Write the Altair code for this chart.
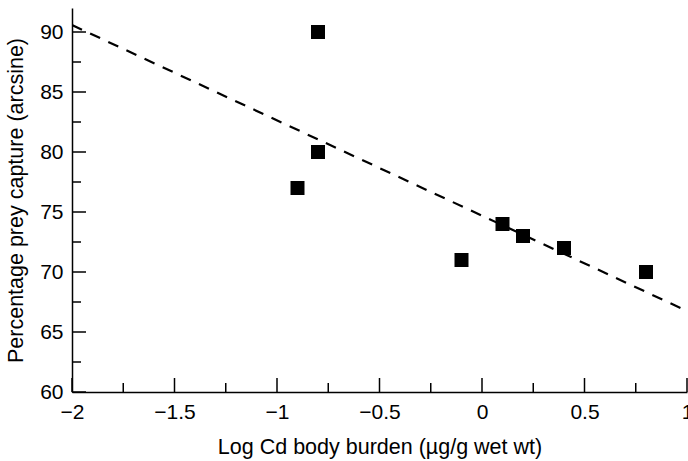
import altair as alt
import pandas as pd
import numpy as np

# Data
log_cd = [-0.8, -0.8, -0.9, -0.1, 0.1, 0.2, 0.4, 0.8]
prey_capture = [90, 80, 77, 71, 74, 73, 72, 70]

# Regression line end points (dashed)
line_x = [-2.0, 1.0]
line_y = [90.58, 66.75]

x_ticks_major = [-2, -1.5, -1, -0.5, 0, 0.5, 1]
x_ticks_minor = [-1.75, -1.25, -0.75, -0.25, 0.25, 0.75]
y_ticks_major = [60, 65, 70, 75, 80, 85, 90]
y_ticks_minor = [62.5, 67.5, 72.5, 77.5, 82.5, 87.5]

FONT = "Liberation Sans"
W, H = 615, 384
XDOM = [-2, 1]
YDOM = [60, 92]

pts = pd.DataFrame({"x": log_cd, "y": prey_capture})
ln = pd.DataFrame({"x": line_x, "y": line_y})

xscale = alt.Scale(domain=XDOM, nice=False, zero=False)
yscale = alt.Scale(domain=YDOM, nice=False, zero=False)

xaxis = alt.Axis(
    title="Log Cd body burden (\u00b5g/g wet wt)",
    values=x_ticks_major,
    labelExpr="replace(format(datum.value, ''), '-', '\u2212')",
    ticks=False,
    grid=False,
    domainColor="black",
    domainWidth=1.5,
    labelFont=FONT, labelFontSize=21, labelColor="black",
    labelPadding=9, labelFlush=False, labelOverlap=False,
    titleFont=FONT, titleFontSize=21.5, titleFontWeight="normal", titleColor="black",
    titlePadding=14,
)
yaxis = alt.Axis(
    title="Percentage prey capture (arcsine)",
    values=y_ticks_major,
    ticks=False,
    grid=False,
    domainColor="black",
    domainWidth=1.5,
    labelFont=FONT, labelFontSize=21, labelColor="black",
    labelPadding=9, labelFlush=False, labelOverlap=False,
    titleFont=FONT, titleFontSize=21.5, titleFontWeight="normal", titleColor="black",
    titlePadding=12,
)

points = alt.Chart(pts).mark_square(size=196, color="black", opacity=1).encode(
    x=alt.X("x:Q", scale=xscale, axis=xaxis),
    y=alt.Y("y:Q", scale=yscale, axis=yaxis),
)

line = alt.Chart(ln).mark_line(color="black", strokeWidth=2.2, strokeDash=[11, 9], clip=True).encode(
    x=alt.X("x:Q", scale=xscale),
    y=alt.Y("y:Q", scale=yscale),
)

def xt(vals, length):
    df = pd.DataFrame({"x": vals})
    return alt.Chart(df).mark_rule(color="black", strokeWidth=1.5).encode(
        x=alt.X("x:Q", scale=xscale),
        y=alt.value(H),
        y2=alt.value(H - length),
    )

def yt(vals, length):
    df = pd.DataFrame({"y": vals})
    return alt.Chart(df).mark_rule(color="black", strokeWidth=1.5).encode(
        y=alt.Y("y:Q", scale=yscale),
        x=alt.value(0),
        x2=alt.value(length),
    )

chart = alt.layer(
    line,
    xt(x_ticks_major, 14), xt(x_ticks_minor, 9),
    yt(y_ticks_major, 14), yt(y_ticks_minor, 9),
    points,
).properties(
    width=W, height=H,
    padding={"left": 72, "top": 8, "right": 1, "bottom": 69},
    autosize=alt.AutoSizeParams(type="none"),
    background="white",
).configure_view(stroke=None)

chart.save("out.html", embed_options={"renderer": "svg", "actions": False})
